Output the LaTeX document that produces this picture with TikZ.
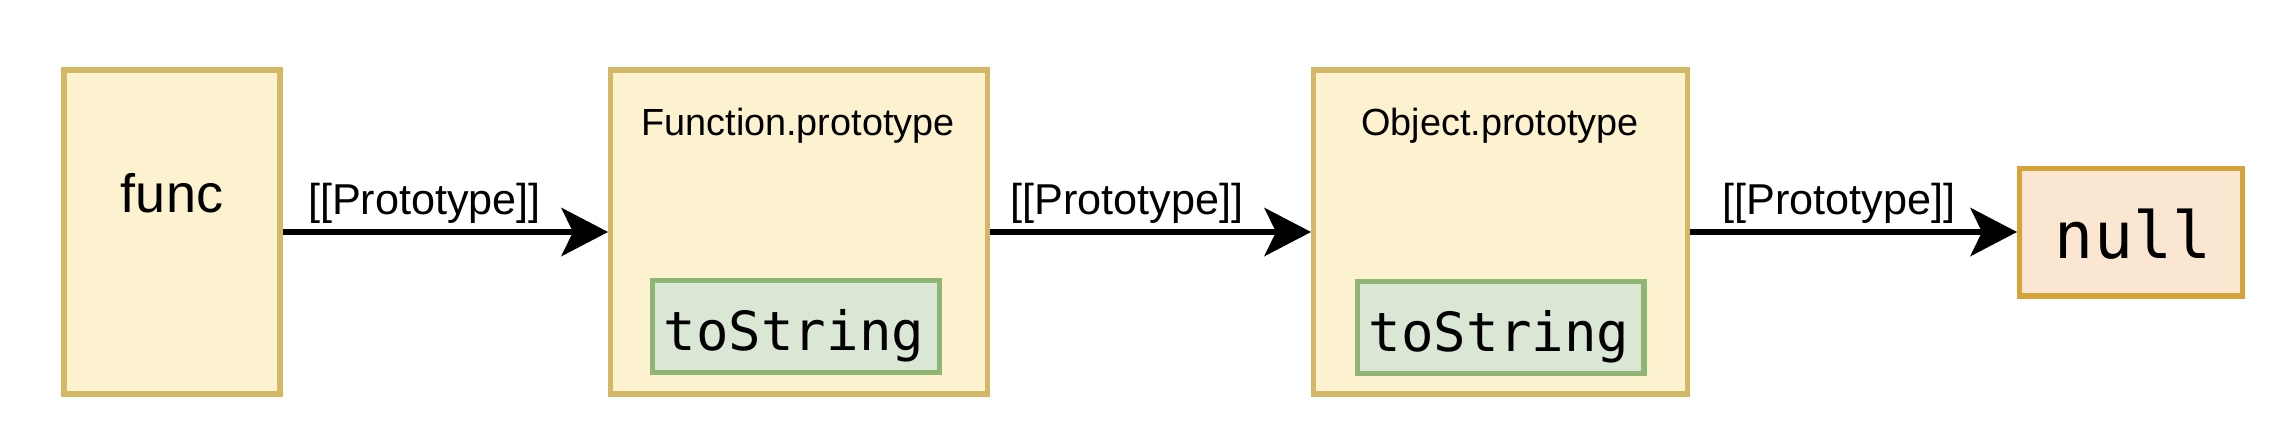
\documentclass[tikz,border=0pt]{standalone}
\usepackage{fontspec}
\setmainfont{Liberation Sans}
\newfontfamily\codefont{DejaVu Sans Mono}
\usetikzlibrary{arrows.meta}
\definecolor{yfill}{HTML}{FCF2D0}
\definecolor{ystroke}{HTML}{D5B865}
\definecolor{gfill}{HTML}{DAE7D5}
\definecolor{gstroke}{HTML}{8EB574}
\definecolor{ofill}{HTML}{FAE6D1}
\definecolor{ostroke}{HTML}{D6A338}
\tikzset{
  ybox/.style={draw=ystroke, fill=yfill, line width=2.7pt, inner sep=0pt, outer sep=1.35pt, minimum height=162pt},
  gbox/.style={draw=gstroke, fill=gfill, line width=2.7pt, inner sep=0pt, outer sep=1.35pt, minimum width=143.3pt, minimum height=45.8pt},
  obox/.style={draw=ostroke, fill=ofill, line width=2.7pt, inner sep=0pt, outer sep=1.35pt, minimum width=111.3pt, minimum height=63.8pt},
  txt/.style={inner sep=0pt, anchor=base, text=black},
  proto/.style={txt, font=\fontsize{21.6pt}{26pt}\selectfont},
  title/.style={txt, font=\fontsize{18.9pt}{23pt}\selectfont},
  arr/.style={draw=black, line width=2.7pt, -{Stealth[length=23.5pt, width=24.5pt, inset=6pt, line width=0pt]}}
}
\begin{document}
\begin{tikzpicture}[x=0.5pt, y=-0.5pt]
\path[use as bounding box, fill=white] (0,0) rectangle (2282,436);
% boxes
\node[ybox, minimum width=108pt] (func) at (172,232) {};
\node[ybox, minimum width=188.3pt] (fproto) at (799,232) {};
\node[ybox, minimum width=186.8pt] (oproto) at (1500.5,232) {};
\node[gbox] (fts) at (796,326.5) {};
\node[gbox] (ots) at (1500.5,327.5) {};
\node[obox] (null) at (2131,232) {};
% texts
\node[txt, font=\fontsize{27pt}{32pt}\selectfont] (funcT) at (172,212) {func};
\node[title] (fprotoT) at (798,135) {Function.prototype};
\node[title] (oprotoT) at (1500,135) {Object.prototype};
\node[txt, font=\codefont\fontsize{27pt}{32pt}\selectfont] (ftsT) at (794,350) {toString};
\node[txt, font=\codefont\fontsize{27pt}{32pt}\selectfont] (otsT) at (1499,351) {toString};
\node[txt, font=\codefont\fontsize{32.4pt}{38pt}\selectfont] (nullT) at (2133,258) {null};
% connectors
\draw[arr] (func.east) -- (fproto.west);
\draw[arr] (fproto.east) -- (oproto.west);
\draw[arr] (oproto.east) -- (null.west);
% connector labels
\node[proto] (l1) at (424.5,214) {[[Prototype]]};
\node[proto] (l2) at (1126.7,214) {[[Prototype]]};
\node[proto] (l3) at (1839,214) {[[Prototype]]};
\end{tikzpicture}
\end{document}
